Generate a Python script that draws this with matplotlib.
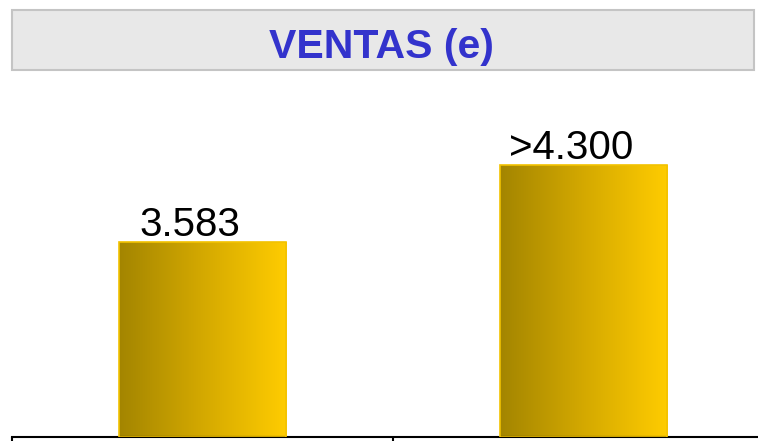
import numpy as np
import matplotlib.pyplot as plt
from matplotlib.patches import Rectangle
from matplotlib.colors import LinearSegmentedColormap

plt.rcParams['font.family'] = ['Liberation Sans', 'DejaVu Sans']

categories = ['2023', '2024']
values = [3583, 5000]
labels = ['3.583', '>4.300']
title = 'VENTAS (e)'

fig = plt.figure(figsize=(7.58, 4.41), dpi=100)

# title box
fig.patches.append(Rectangle((12 / 758, 1 - 70 / 441), 742 / 758, 60 / 441,
                             transform=fig.transFigure, facecolor='#e8e8e8',
                             edgecolor='#c4c4c4', linewidth=1.5))
fig.text(381 / 758, 1 - 58 / 441, title, ha='center', va='baseline',
         fontsize=29.5, fontweight='bold', color='#3333cc')

ax = fig.add_axes([12 / 758, 1 - 437 / 441, 762 / 758, 357 / 441])
x = np.arange(len(categories))
ymax = 6560
bars = ax.bar(x, values, width=0.44, facecolor='none', edgecolor='#f2c200',
              linewidth=1.2, zorder=3)

cmap = LinearSegmentedColormap.from_list('gold', ['#a38500', '#d4a900', '#ffcc00'])
grad = np.linspace(0, 1, 256).reshape(1, -1)
for b, lab in zip(bars, labels):
    x0, w, h = b.get_x(), b.get_width(), b.get_height()
    im = ax.imshow(grad, cmap=cmap, extent=(x0, x0 + w, 0, h), aspect='auto', zorder=2)
    im.set_clip_path(b)
    # labels sit a bit left of the bar centre
    ax.annotate(lab, (x0 + w / 2, h), xytext=(-9, 4.5), textcoords='offset points',
                ha='center', va='baseline', fontsize=29)

ax.set_xlim(-0.5, 1.5)
ax.set_ylim(0, ymax)
for s in ['top', 'right', 'left']:
    ax.spines[s].set_visible(False)
ax.spines['bottom'].set_linewidth(1.5)
ax.set_yticks([])
ax.set_xticks([-0.5, 0.5, 1.5])
ax.set_xticklabels([])
ax.tick_params(axis='x', direction='out', length=8, width=1.5)

fig.savefig('out.png', dpi=100)
